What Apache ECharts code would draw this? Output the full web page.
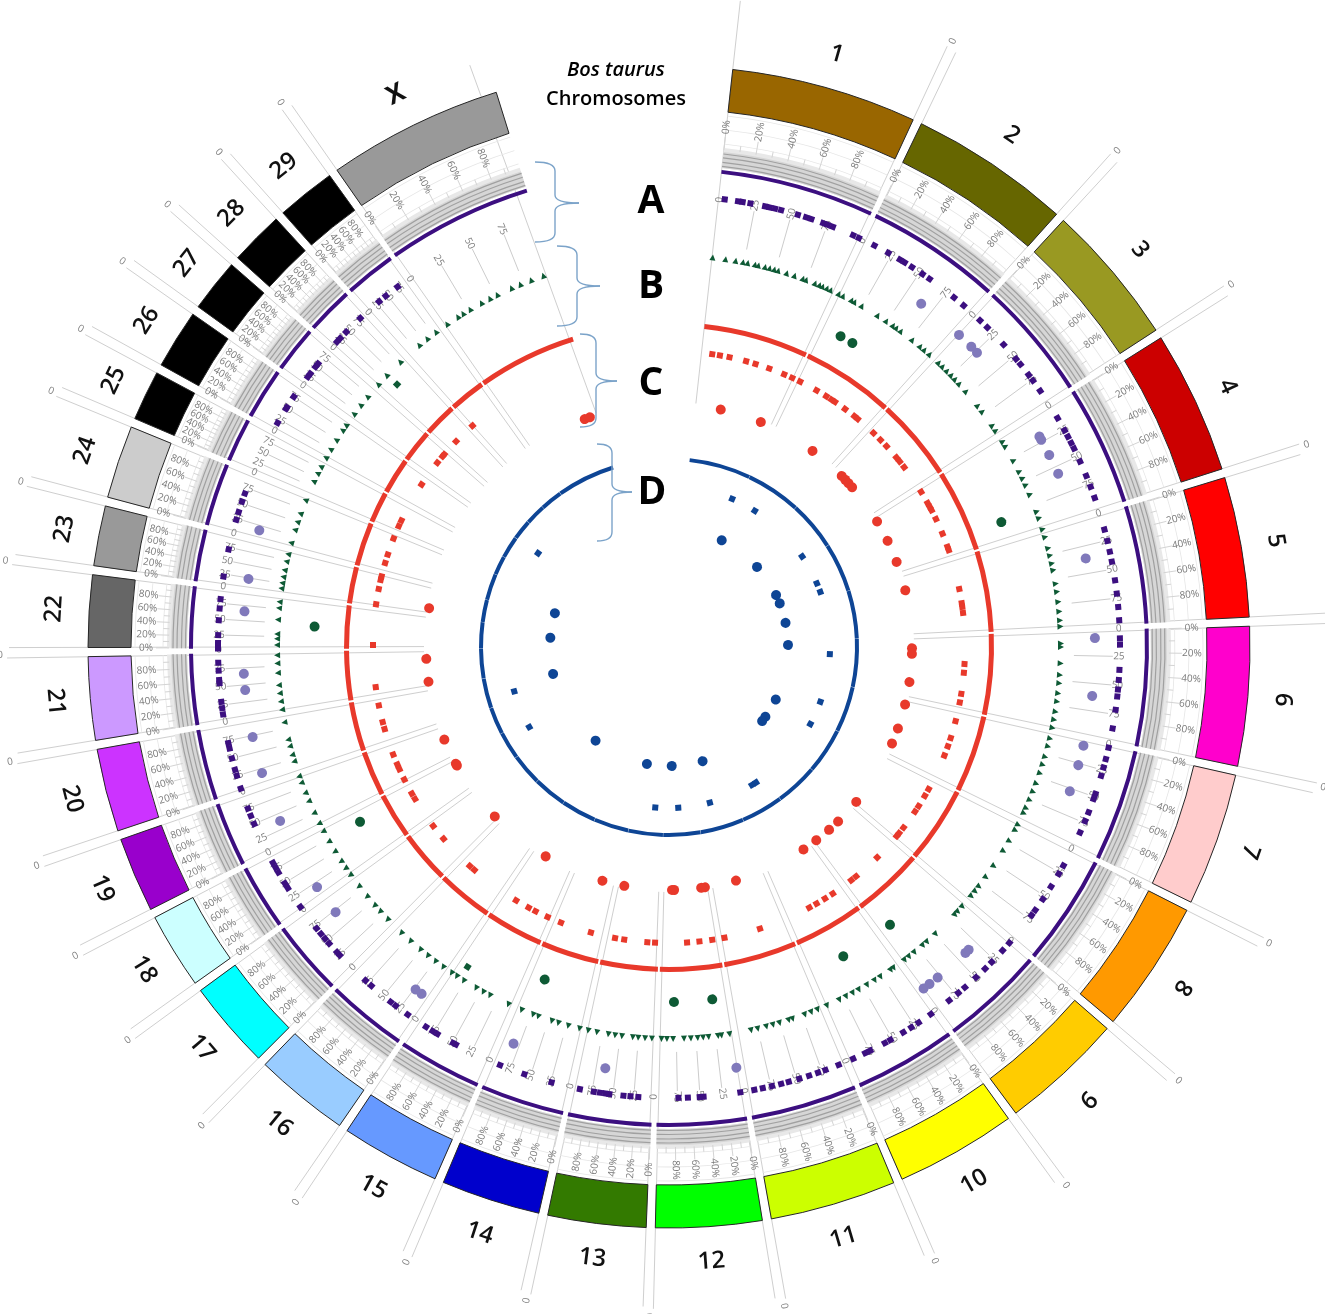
<!DOCTYPE html>
<html>
<head>
<meta charset="utf-8">
<title>Bos taurus Chromosomes</title>
<style>html,body{margin:0;padding:0;background:#fff}#main{width:1325px;height:1314px}</style>
<script src="https://cdn.jsdelivr.net/npm/echarts@6/dist/echarts.min.js"></script>
</head>
<body>
<div id="main"></div>
<script>
var chromosomes = ['1','2','3','4','5','6','7','8','9','10','11','12','13','14','15','16','17','18','19','20','21','22','23','24','25','26','27','28','29','X'];
var chromColors = ['#996600','#666600','#999922','#cc0000','#ff0000','#ff00cc','#ffcccc','#ff9900','#ffcc00','#ffff00','#ccff00','#00ff00','#337a00','#0000cc','#6699ff','#99ccff','#00ffff','#ccffff','#9900cc','#cc33ff','#cc99ff','#666666','#999999','#cccccc','#000000','#000000','#000000','#000000','#000000','#999999'];
// chromosome limits, degrees clockwise from the top
var chromBounds = [6.3,25.3,42.3,57.4,72.6,87.5,102.3,116.5,130.6,143.8,156.8,170.3,181.8,192.5,203.3,214.1,224.5,234.2,242.7,251.1,260.3,269.5,277.6,284.5,292.7,298.6,305.4,311.6,317.9,324.7,342.7];
var percentTicks = [0,20,40,60,80];
var trackTicks = [0,25,50,75];

// marks of each track, position in degrees
var purpleSquares = [7.1,8.8,9.4,10.4,12.3,12.9,13.6,14.4,16.6,17.7,18.4,20,20.6,21.3,24.1,24.9,27.1,29.1,30.8,31.5,32.6,34.2,35.3,39.2,40.8,43.6,44.9,47.9,50.3,51.2,52.9,53.8,55.4,59.5,61.3,62.2,63.1,63.9,65.7,67.7,69.2,70.7,74.9,76.4,77.8,79.1,81.5,83.2,84.9,86.6,88.9,89.7,92.9,94.2,95.4,96.3,98,100.4,102.9,104.4,105.5,106.6,109,109.7,111.5,112.7,114.3,119,120.2,122.1,124,125.7,126.5,131,132.3,134.3,135.5,137.1,139,140.1,141.6,144.5,146.4,147.5,148.7,150.6,151.4,153.5,154.2,155.9,157.9,159.7,160.7,161.9,163.2,164.6,165.6,166.8,168,169.1,170.9,175.6,176.1,177.6,178.8,183.9,184.9,185.8,187.6,188.1,188.8,189.6,191.4,195.1,198.7,202,208.2,208.6,210.9,211.6,212.6,215.4,217.3,218.1,221.3,222.3,226.9,227.4,228.9,229.7,230.5,231.4,234.8,237.7,238.4,240,240.7,241.4,246.9,248,249,251.7,253.4,254.2,255.7,257,257.7,261.4,262.2,263,265.4,265.8,267,268,269.8,270.5,271.5,273.4,274.9,276.1,279,282.5,286.4,287.4,288.8,289.9,299.8,301.9,302.1,303.7,306.8,307.3,308.4,308.9,312.6,313.2,314.3,316.8,320,321.1,323];
var purpleCircles = [36.3,42.9,45.2,46.3,60.4,60.9,63.2,66,78,88.8,96.6,103.4,106.1,109.8,135.3,135.9,140.9,142.3,143.3,170.9,188.6,201.4,215.5,216.5,231.5,235.7,245.9,252.8,257.8,264.2,266.4,274.8,279.2,285.9];
var greenTriangles = [6.4,8.3,9.8,10.9,11.6,12.7,13.2,14.2,14.9,15.6,16.2,17.5,18.7,20,20.5,21.9,22.6,23.1,23.8,24.4,25.7,26.4,27.8,28.3,29.5,32.2,33.7,34.9,35.5,36.3,38.4,39.9,40.7,41.7,43.5,44.3,45.2,46.1,46.9,47.8,49.3,52,53.1,55.6,56.5,58.4,59.2,61.6,63.4,64.5,65.6,67.1,69.8,70.8,72.5,73.7,75.4,76.5,77.7,78.7,80.7,81.9,83.4,84.8,86.1,87,89.5,90,92.4,94.1,95.3,96.8,98,99.5,100.7,101.9,103.5,104.7,106.3,107.5,108.8,110.4,111.7,113,114.3,115.1,117,117.9,119.7,121.4,124,126,127.7,128.6,129.5,131.5,132.5,133.1,137.1,138.8,139.6,141.2,142.2,143,145,145.5,147.3,148.3,149.6,151,152,153.1,154.2,156.2,157.7,158.7,159.7,161.6,162.2,163.6,164.6,165.6,166.9,167.9,171.1,172.3,172.8,174.2,175,175.8,176.8,177.8,179.4,180.3,181.1,182.5,183.5,184.5,185.3,186.9,187.9,188.9,190.6,191.9,193.2,194.9,196.4,197.4,199.5,200.3,202.1,204.2,207.2,208.3,209.5,211.6,212.8,213.7,215.2,216.6,218,219.4,221.3,223.1,225.9,227.5,228.7,230.4,232.3,234.4,235.6,236.8,238.5,240.2,241.9,243.2,244.9,246.8,248.1,249.7,250.7,253,254,255.3,256.3,258.9,260.8,262,263.2,264.4,266.2,267.6,268.8,270.3,271.2,271.9,274,275.7,276.6,278.6,279.4,280.3,281.3,282.6,283.7,285.4,287.4,288.6,289.9,292,295,296.3,297.4,298.9,300.3,301.9,303.6,304.5,306.5,308.1,309.7,312.1,313.9,316.7,320.4,321.9,323.5,325.5,327.4,328.3,329.5,331.4,332.8,334,336.3,337.7,339.4,341.3];
var greenSquares = [212.2,314];
var greenCircles = [28.9,31.1,69.4,141.5,150.6,173,179.2,200.5,240.5,273.3];
var redSquares = [8.4,9.9,11.8,15.1,17,19.8,22.9,24.6,26.3,29.9,32.1,33.3,34.1,36.5,38.8,39.6,43.7,45.6,47.3,50.2,51.2,52.6,58.4,60.9,61.8,62.5,64.4,67.5,70.2,70.9,78.7,81.5,82.2,83.4,93.3,95,99.1,100.8,104.5,107.9,109.6,111.5,118.7,120.2,122.5,123.8,127.6,129,129.7,135.3,140.8,142,146.4,148.2,150.1,151.7,162.1,169.2,171.6,174.1,176.5,182.7,184.2,188.7,190.5,195.3,201.4,204.2,206.8,208.3,211.1,221.1,222.3,229.6,232.8,239.1,240.3,243.4,245.6,246.6,248.7,253.9,255.3,258.6,262.2,270.4,278.3,281.3,283.1,283.8,286.5,288.2,291.5,294.1,295.3,303.3,308.5,310.1,310.6,314,318.4];
var redCircles = [12.3,22.2,36.2,45.3,46.5,47.6,48.9,58.9,64.1,69.5,76.5,90.3,91.6,98.3,103.7,109.6,113.4,129.6,135.9,138.8,142.7,146.4,164,171.5,172.4,178.8,179.3,190.6,195.9,210.5,225.8,240.8,241.3,247.6,261.8,267.2,279.2,339.7,341];
var blueSquares = [23.1,32.2,55.8,66.7,70,92.5,109.9,118.6,147.3,149,165.3,176.7,184.9,240.2,254,305.6];
var blueCircles = [26.3,47.7,64.1,68.5,78.3,89,116.2,125.9,128.5,163.6,178.7,190.7,218.1,256.9,274.5,286.5];

var chart = echarts.init(document.getElementById('main'));
var textFont = '"Open Sans", sans-serif';

function limits(i, gap) {
	return [
		i === 0 ? chromBounds[0] : chromBounds[i] + gap / 2,
		i === chromosomes.length - 1 ? chromBounds[i + 1] : chromBounds[i + 1] - gap / 2
	];
}
function sector(params, r0, r, a0, a1, style) {
	return {
		type: 'sector',
		shape: {
			cx: params.coordSys.cx, cy: params.coordSys.cy, r0: r0, r: r,
			startAngle: (a0 - 90) * Math.PI / 180, endAngle: (a1 - 90) * Math.PI / 180, clockwise: true
		},
		style: style
	};
}
function line(api, r0, a0, r1, a1, color, width) {
	var p0 = api.coord([r0, a0]), p1 = api.coord([r1, a1]);
	return {
		type: 'line',
		shape: { x1: p0[0], y1: p0[1], x2: p1[0], y2: p1[1] },
		style: { stroke: color, lineWidth: width || 1, fill: null }
	};
}
// text along the radius, kept the right way up
function radialText(api, str, r, a, size, color) {
	var p = api.coord([r, a % 360]);
	var deg = a < 180 ? a - 90 : a - 270;
	return {
		type: 'text', x: p[0], y: p[1], rotation: -deg * Math.PI / 180,
		style: { text: str, fill: color, font: size + 'px ' + textFont, align: 'center', verticalAlign: 'middle' }
	};
}
function chromSeries(z, build) {
	return {
		type: 'custom', coordinateSystem: 'polar', silent: true, z: z, clip: false,
		data: chromosomes.map(function (c, i) { return [500, (chromBounds[i] + chromBounds[i + 1]) / 2]; }),
		renderItem: function (params, api) {
			return { type: 'group', children: build(params, api, params.dataIndex) };
		}
	};
}
function ringSeries(r0, r, color, gap, z) {
	return chromSeries(z || 4, function (params, api, i) {
		var lim = limits(i, gap);
		return [sector(params, r0, r, lim[0], lim[1], { fill: color })];
	});
}
function marks(values, radius, symbol, size, color, opacity) {
	return {
		type: 'scatter', coordinateSystem: 'polar', silent: true, z: 6,
		symbol: symbol, symbolSize: size,
		symbolRotate: function (v) { return -v[1]; },
		itemStyle: { color: color, opacity: opacity || 1 },
		data: values.map(function (a) { return [radius, a]; })
	};
}

// rays along the gaps and the small numbered axes of the inner track
var raySeries = chromSeries(1, function (params, api, i) {
	var out = [];
	var ends = [chromBounds[i]];
	if (i === chromosomes.length - 1) ends.push(chromBounds[i + 1]);
	ends.forEach(function (b, k) {
		var last = i === chromosomes.length - 1 && k === 1;
		if (i === 0) {
			out.push(line(api, 650, b + 0.0, 245, b + 0.0, '#cfcfcf'));
			return;
		}
		if (last) {
			out.push(line(api, 615, b - 1.6, 245, b + 0.0, '#cfcfcf'));
			return;
		}
		out.push(line(api, 662, b - 0.45, 245, b - 0.6, '#cfcfcf'));
		out.push(line(api, 660, b + 0.45, 245, b + 0.6, '#cfcfcf'));
	});
	var lim = limits(i, 0);
	trackTicks.forEach(function (t) {
		var a = lim[0] + (lim[1] - lim[0]) * t / 100;
		if (t > 0) out.push(line(api, 444, a, 405, a, '#cccccc'));
		out.push(radialText(api, String(t), 450, a + (t === 0 ? 0.15 : 0), 10, '#808080'));
	});
	if (i > 0) out.push(radialText(api, '0', 669, chromBounds[i] - 0.2, 10, '#808080'));
	return out;
});

var segmentSeries = chromSeries(5, function (params, api, i) {
	var lim = limits(i, 0.9);
	return [sector(params, 538, 581, lim[0], lim[1], { fill: chromColors[i], stroke: '#262626', lineWidth: 1 })];
});

var scaleSeries = chromSeries(3, function (params, api, i) {
	var lim = limits(i, 0.8), out = [];
	[506, 520, 534].forEach(function (r) {
		out.push(sector(params, r - 0.4, r + 0.4, lim[0], lim[1], { fill: '#e6e6e6' }));
	});
	[0,10,20,30,40,50,60,70,80,90].forEach(function (t) {
		var a = lim[0] + (lim[1] - lim[0]) * t / 100;
		out.push(line(api, 500, a, t % 20 === 0 ? 513 : 506, a, '#d4d4d4'));
	});
	percentTicks.forEach(function (t) {
		var a = lim[0] + (lim[1] - lim[0]) * t / 100;
		out.push(radialText(api, t + '%', 523, a, 10, '#7a7a7a'));
	});
	return out;
});

var bandSeries = chromSeries(3, function (params, api, i) {
	var lim = limits(i, 0.7), out = [];
	out.push(sector(params, 482, 502, lim[0], lim[1], { fill: '#e8e8e8' }));
	out.push(sector(params, 482, 498, lim[0], lim[1], { fill: '#d6d6d6' }));
	[483.5, 487.5, 492, 496].forEach(function (r) {
		out.push(sector(params, r - 0.6, r + 0.6, lim[0], lim[1], { fill: '#a0a0a0' }));
	});
	return out;
});

var labelSeries = chromSeries(5, function (params, api, i) {
	var mid = (chromBounds[i] + chromBounds[i + 1]) / 2;
	var p = api.coord([616, mid]);
	var deg = (mid > 144 && mid < 265) ? mid - 180 : mid;
	return [{
		type: 'text', x: p[0], y: p[1], rotation: -deg * Math.PI / 180,
		style: {
			text: chromosomes[i], fill: '#111',
			font: (chromosomes[i] === 'X' ? 'bold 26px ' : '600 24px ') + textFont,
			align: 'center', verticalAlign: 'middle'
		}
	}];
});

function letter(str, x, y) {
	return { type: 'text', x: x, y: y, z: 20, style: { text: str, fill: '#000', font: 'bold 39px ' + textFont, align: 'center', verticalAlign: 'middle' } };
}
// curly bracket opening to the left, made of four curves and two straight parts
function bracket(x0, x1, tipX, top, tipY, bottom) {
	var st = { fill: null, stroke: '#7ba3c9', lineWidth: 1.4 };
	function curve(a, b, c, d, e, f) {
		return { type: 'bezierCurve', z: 20, shape: { x1: a, y1: b, x2: c, y2: d, cpx1: e, cpy1: f }, style: st };
	}
	function straight(a, b, c, d) {
		return { type: 'line', z: 20, shape: { x1: a, y1: b, x2: c, y2: d }, style: st };
	}
	return [
		curve(x0, top, x1, top + 9, x1, top),
		straight(x1, top + 9, x1, tipY - 8),
		curve(x1, tipY - 8, tipX, tipY, x1, tipY),
		curve(tipX, tipY, x1, tipY + 8, x1, tipY),
		straight(x1, tipY + 8, x1, bottom - 9),
		curve(x1, bottom - 9, x0, bottom, x1, bottom)
	];
}

var option = {
	animation: false,
	backgroundColor: '#fff',
	polar: { center: [669, 647], radius: [0, 700] },
	angleAxis: { type: 'value', min: 0, max: 360, startAngle: 90, clockwise: true, show: false },
	// 1 unit of the radius axis is 1 pixel
	radiusAxis: { type: 'value', min: 0, max: 700, show: false },
	graphic: [
		{ type: 'text', x: 616, y: 70, z: 20, style: { text: 'Bos taurus', fill: '#000', font: 'italic 600 20px ' + textFont, align: 'center', verticalAlign: 'middle' } },
		{ type: 'text', x: 616, y: 99, z: 20, style: { text: 'Chromosomes', fill: '#000', font: '600 20px ' + textFont, align: 'center', verticalAlign: 'middle' } },
		letter('A', 651, 202), letter('B', 651, 287), letter('C', 651, 384), letter('D', 652, 493)
	].concat(
		bracket(535, 555, 579, 162, 203, 242),
		bracket(557, 577, 600, 246, 286, 326),
		bracket(580, 596, 617, 334, 381, 427),
		bracket(597, 612, 632, 444, 492, 541)
	),
	series: [
		raySeries, bandSeries, scaleSeries, segmentSeries, labelSeries,
		ringSeries(476, 480, '#3c0f80', 0.6),
		ringSeries(320, 325, '#e8392b', 0.35),
		ringSeries(186, 190, '#0e4595', 0.1),
		marks(purpleSquares, 451, 'rect', 6, '#3c0f80'),
		marks(purpleCircles, 426, 'circle', 10, '#8079bb'),
		marks(greenTriangles, 392, 'triangle', 6, '#0e5a35'),
		marks(greenSquares, 378, 'rect', 6, '#0e5a35'),
		marks(greenCircles, 355, 'circle', 10, '#0e5a35'),
		marks(redSquares, 296, 'rect', 6, '#e8392b'),
		marks(redCircles, 243, 'circle', 10, '#e8392b'),
		marks(blueSquares, 161, 'rect', 6, '#0e4595'),
		marks(blueCircles, 119, 'circle', 10, '#0e4595')
	]
};
chart.setOption(option);
</script>
</body>
</html>
